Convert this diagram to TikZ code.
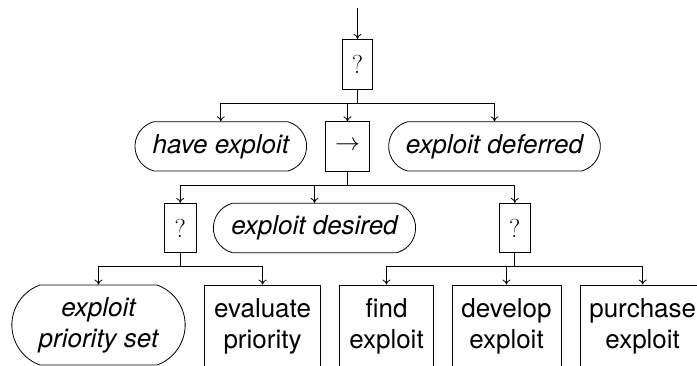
\documentclass[tikz,border=0pt]{standalone}
\usepackage{fontspec}
\newfontfamily\helv{TeX Gyre Heros}
\usetikzlibrary{shapes.misc,arrows.meta}
\begin{document}
\begin{tikzpicture}[x=1pt,y=-1pt,
  base/.style={draw, line width=0.8pt, inner sep=0pt, align=center},
  act/.style={base, rectangle, font=\helv\fontsize{26}{31}\selectfont},
  cond/.style={base, rounded rectangle, rounded rectangle arc length=150, font=\helv\itshape\fontsize{26}{31}\selectfont},
  ctl/.style={base, rectangle, font=\fontsize{26}{31}\selectfont},
  arr/.style={line width=0.8pt, -{To[length=5pt,width=8pt]}},
  lin/.style={line width=0.8pt}]
\useasboundingbox (0,0) rectangle (697,366);
\clip (0,0) rectangle (697,366);
% bus levels
\coordinate (b1) at (0,103.3);
\coordinate (b2) at (0,185);
\coordinate (b3) at (0,266);
\coordinate (top) at (357.5,8);
% level 1
\node[ctl, minimum width=30.6pt, minimum height=50pt] (q1) at (357.5,64.3) {?};
% level 2
\node[cond, minimum width=171.7pt, minimum height=49.3pt] (have) at (220.8,146.4) {have exploit};
\node[ctl, minimum width=43.6pt, minimum height=49.3pt] (seq) at (347.5,146.4) {$\rightarrow$};
\node[cond, minimum width=211.7pt, minimum height=49.3pt] (defer) at (494.5,146.4) {exploit deferred};
% level 3
\node[ctl, minimum width=31.7pt, minimum height=49.4pt] (q2) at (180.2,228) {?};
\node[cond, minimum width=202.3pt, minimum height=49.4pt] (desired) at (314.5,228) {exploit desired};
\node[ctl, minimum width=31pt, minimum height=49.4pt] (q3) at (514.8,228) {?};
% level 4
\node[cond, rounded rectangle arc length=140, minimum width=173.3pt, minimum height=80pt] (prio) at (98.5,325) {exploit\\priority set};
\node[act, minimum width=116.7pt, minimum height=82pt] (eval) at (262.5,326) {evaluate\\priority};
\node[act, minimum width=94pt, minimum height=82pt] (find) at (386.5,326) {find\\exploit};
\node[act, minimum width=109pt, minimum height=82pt] (dev) at (506.5,326) {develop\\exploit};
\node[act, minimum width=125.4pt, minimum height=82pt] (buy) at (642.7,326) {purchase\\exploit};
% connectors
\draw[arr] (top) -- (q1.north);
\draw[lin] (q1.south) -- (q1.south |- b1);
\draw[arr] (q1.south |- b1) -| (have.north);
\draw[arr] (q1.south |- b1) -| (seq.north);
\draw[arr] (q1.south |- b1) -| (defer.north);
\draw[lin] (seq.south) -- (seq.south |- b2);
\draw[arr] (seq.south |- b2) -| (q2.north);
\draw[arr] (seq.south |- b2) -| (desired.north);
\draw[arr] (seq.south |- b2) -| (q3.north);
\draw[lin] (q2.south) -- (q2.south |- b3);
\draw[arr] (q2.south |- b3) -| (prio.north);
\draw[arr] (q2.south |- b3) -| (eval.north);
\draw[lin] (q3.south) -- (q3.south |- b3);
\draw[arr] (q3.south |- b3) -| (find.north);
\draw[arr] (q3.south |- b3) -| (dev.north);
\draw[arr] (q3.south |- b3) -| (buy.north);
\end{tikzpicture}
\end{document}
